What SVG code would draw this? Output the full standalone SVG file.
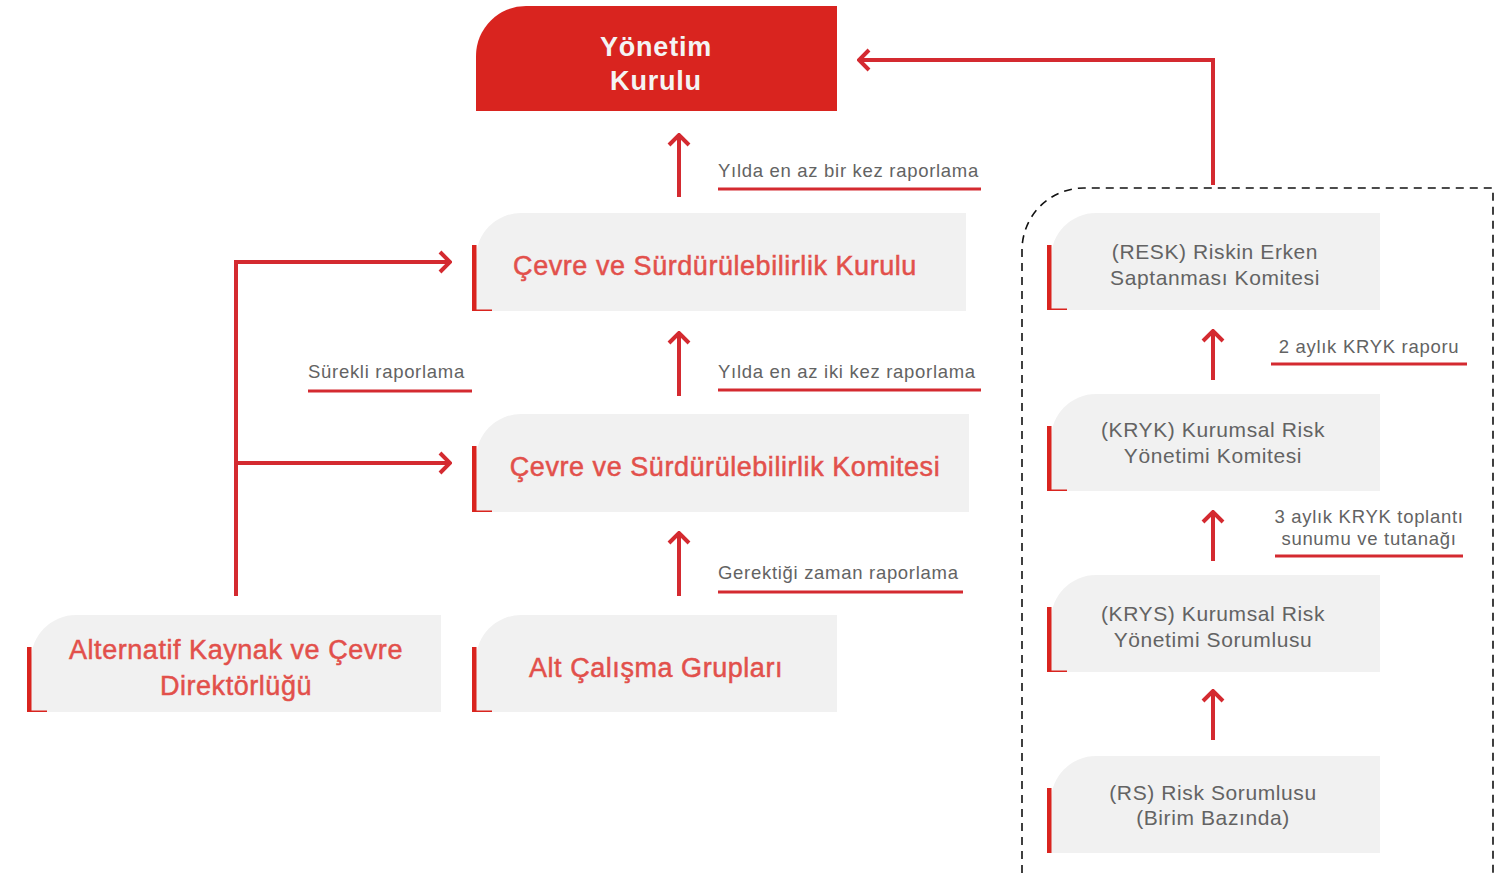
<svg xmlns="http://www.w3.org/2000/svg" width="1497" height="873" viewBox="0 0 1497 873">
<defs>
<style>
.node{fill:#f1f1f1}
.bar{fill:#d9241f}
.title{font-family:"Liberation Sans",Arial,sans-serif;font-size:27px;letter-spacing:0.55px;fill:#e2504b;stroke:#e2504b;stroke-width:0.5px;text-anchor:middle}
.sub{font-family:"Liberation Sans",Arial,sans-serif;font-size:21px;letter-spacing:0.6px;fill:#636363;text-anchor:middle}
.lbl{font-family:"Liberation Sans",Arial,sans-serif;font-size:18.5px;letter-spacing:0.7px;fill:#636363}
.head{font-family:"Liberation Sans",Arial,sans-serif;font-size:27px;letter-spacing:0.8px;font-weight:bold;fill:#f4f4f4;text-anchor:middle}
.ul{stroke:#d42a30;stroke-width:3}
.conn{stroke:#d42a30;stroke-width:4;fill:none}
.dash{stroke:#111;stroke-width:1.6;fill:none;stroke-dasharray:8 6}
</style>
<marker id="ah" viewBox="0 0 14 24" refX="12" refY="12" markerWidth="14" markerHeight="24" markerUnits="userSpaceOnUse" orient="auto">
<path d="M2 2 L12 12 L2 22" fill="none" stroke="#d42a30" stroke-width="4"/>
</marker>
</defs>
<rect width="1497" height="873" fill="#fff"/>

<g id="connectors">
<path class="dash" d="M1022 873 L1022 250 A62 62 0 0 1 1084 188 L1493 188 L1493 873"/>
<line class="conn" x1="679" y1="197" x2="679" y2="135" marker-end="url(#ah)"/>
<line class="conn" x1="679" y1="396" x2="679" y2="333" marker-end="url(#ah)"/>
<line class="conn" x1="679" y1="596" x2="679" y2="533" marker-end="url(#ah)"/>
<line class="conn" x1="1213" y1="380" x2="1213" y2="331" marker-end="url(#ah)"/>
<line class="conn" x1="1213" y1="561" x2="1213" y2="512" marker-end="url(#ah)"/>
<line class="conn" x1="1213" y1="740" x2="1213" y2="691" marker-end="url(#ah)"/>
<polyline class="conn" points="1213,185 1213,60 859,60" marker-end="url(#ah)"/>
<line class="conn" x1="236" y1="596" x2="236" y2="261"/>
<line class="conn" x1="234" y1="262" x2="450" y2="262" marker-end="url(#ah)"/>
<line class="conn" x1="236" y1="463" x2="450" y2="463" marker-end="url(#ah)"/>
</g>

<g id="labels">
<text class="lbl" x="718" y="177">Yılda en az bir kez raporlama</text>
<line class="ul" x1="718" y1="189" x2="981" y2="189"/>
<text class="lbl" x="718" y="378">Yılda en az iki kez raporlama</text>
<line class="ul" x1="718" y1="390" x2="981" y2="390"/>
<text class="lbl" x="718" y="579">Gerektiği zaman raporlama</text>
<line class="ul" x1="718" y1="592" x2="963" y2="592"/>
<text class="lbl" x="308" y="378">Sürekli raporlama</text>
<line class="ul" x1="308" y1="391" x2="472" y2="391"/>
<text class="lbl" x="1369" y="353" text-anchor="middle">2 aylık KRYK raporu</text>
<line class="ul" x1="1271" y1="364" x2="1467" y2="364"/>
<text class="lbl" x="1369" y="523" text-anchor="middle">3 aylık KRYK toplantı</text>
<text class="lbl" x="1369" y="545" text-anchor="middle">sunumu ve tutanağı</text>
<line class="ul" x1="1275" y1="556" x2="1463" y2="556"/>
</g>

<g id="yonetim-kurulu">
<path d="M476 111 L476 56 A50 50 0 0 1 526 6 L837 6 L837 111 Z" fill="#d9241f"/>
<text class="head" x="656" y="56">Yönetim</text>
<text class="head" x="656" y="90">Kurulu</text>
</g>

<g id="cevre-kurulu">
<path class="node" d="M476 311 L476 258 A45 45 0 0 1 521 213 L966 213 L966 311 Z"/>
<rect class="bar" x="472" y="245" width="4.5" height="66"/>
<rect class="bar" x="472" y="309.5" width="20" height="1.5"/>
<text class="title" x="715" y="275">Çevre ve Sürdürülebilirlik Kurulu</text>
</g>

<g id="cevre-komitesi">
<path class="node" d="M476 512 L476 459 A45 45 0 0 1 521 414 L969 414 L969 512 Z"/>
<rect class="bar" x="472" y="446" width="4.5" height="66"/>
<rect class="bar" x="472" y="510.5" width="20" height="1.5"/>
<text class="title" x="725" y="476">Çevre ve Sürdürülebilirlik Komitesi</text>
</g>

<g id="alternatif">
<path class="node" d="M31 712 L31 660 A45 45 0 0 1 76 615 L441 615 L441 712 Z"/>
<rect class="bar" x="27" y="647" width="4.5" height="65"/>
<rect class="bar" x="27" y="710.5" width="20" height="1.5"/>
<text class="title" x="236" y="659">Alternatif Kaynak ve Çevre</text>
<text class="title" x="236" y="695">Direktörlüğü</text>
</g>

<g id="alt-calisma">
<path class="node" d="M476 712 L476 660 A45 45 0 0 1 521 615 L837 615 L837 712 Z"/>
<rect class="bar" x="472" y="647" width="4.5" height="65"/>
<rect class="bar" x="472" y="710.5" width="20" height="1.5"/>
<text class="title" x="656" y="677">Alt Çalışma Grupları</text>
</g>

<g id="resk">
<path class="node" d="M1051 310 L1051 258 A45 45 0 0 1 1096 213 L1380 213 L1380 310 Z"/>
<rect class="bar" x="1047" y="245" width="4.5" height="65"/>
<rect class="bar" x="1047" y="308.5" width="20" height="1.5"/>
<text class="sub" x="1215" y="259">(RESK) Riskin Erken</text>
<text class="sub" x="1215" y="285">Saptanması Komitesi</text>
</g>

<g id="kryk">
<path class="node" d="M1051 491 L1051 439 A45 45 0 0 1 1096 394 L1380 394 L1380 491 Z"/>
<rect class="bar" x="1047" y="426" width="4.5" height="65"/>
<rect class="bar" x="1047" y="489.5" width="20" height="1.5"/>
<text class="sub" x="1213" y="437">(KRYK) Kurumsal Risk</text>
<text class="sub" x="1213" y="463">Yönetimi Komitesi</text>
</g>

<g id="krys">
<path class="node" d="M1051 672 L1051 620 A45 45 0 0 1 1096 575 L1380 575 L1380 672 Z"/>
<rect class="bar" x="1047" y="607" width="4.5" height="65"/>
<rect class="bar" x="1047" y="670.5" width="20" height="1.5"/>
<text class="sub" x="1213" y="621">(KRYS) Kurumsal Risk</text>
<text class="sub" x="1213" y="647">Yönetimi Sorumlusu</text>
</g>

<g id="rs">
<path class="node" d="M1051 853 L1051 801 A45 45 0 0 1 1096 756 L1380 756 L1380 853 Z"/>
<rect class="bar" x="1047" y="788" width="4.5" height="65"/>
<text class="sub" x="1213" y="800">(RS) Risk Sorumlusu</text>
<text class="sub" x="1213" y="825">(Birim Bazında)</text>
</g>
</svg>
